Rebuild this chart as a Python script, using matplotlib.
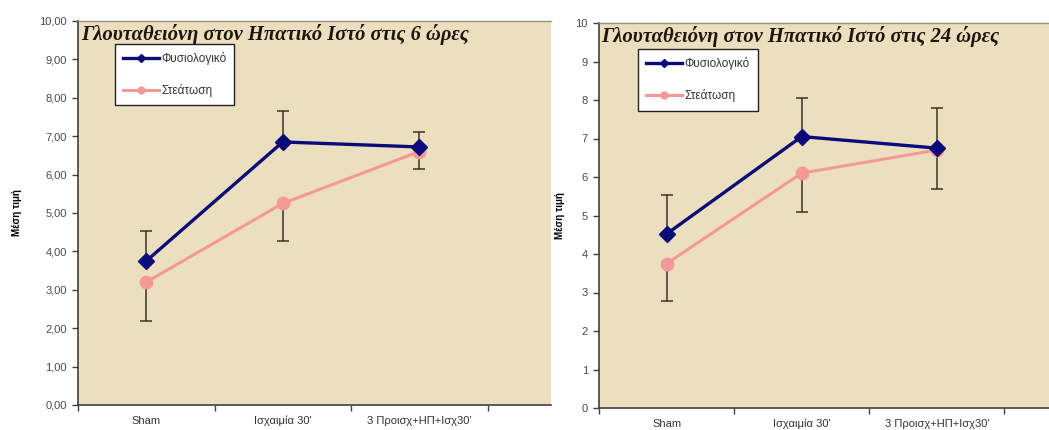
import numpy as np
import matplotlib
matplotlib.use("Agg")
import matplotlib.pyplot as plt

plt.rcParams['font.family'] = ['Liberation Sans', 'DejaVu Sans']

# groups on the x axis
groups = ["Sham", "Ισχαιμία 30'", "3 Προισχ+ΗΠ+Ισχ30'"]
series_names = ["Φυσιολογικό", "Στεάτωση"]

# 6 hours
normal_6h = [3.75, 6.85, 6.72]
steatosis_6h = [3.20, 5.25, 6.60]
normal_6h_err = [0.77, 0.80, 0.40]
steatosis_6h_err = [1.02, 0.98, 0.45]

# 24 hours
normal_24h = [4.52, 7.05, 6.75]
steatosis_24h = [3.75, 6.10, 6.70]
normal_24h_err = [1.00, 1.00, 1.03]
steatosis_24h_err = [0.98, 1.00, 1.02]

titles = ["Γλουταθειόνη στον Ηπατικό Ιστό στις 6 ώρες",
          "Γλουταθειόνη στον Ηπατικό Ιστό στις 24 ώρες"]

paper = '#ECDFC0'
navy = '#0A0A78'
pink = '#F49A96'
err_col = '#3A3322'


def draw_panel(ax, normal, steat, n_err, s_err, title, tick_fmt, xmax, leg_anchor):
    x = np.arange(len(groups))
    ax.set_facecolor(paper)
    # blue series shows the upper half of its error, pink the lower half
    ax.errorbar(x, normal, yerr=[np.zeros(len(x)), n_err], fmt='none',
                ecolor=err_col, elinewidth=1.1, capsize=4, capthick=1.1, zorder=2)
    ax.errorbar(x, steat, yerr=[s_err, np.zeros(len(x))], fmt='none',
                ecolor=err_col, elinewidth=1.1, capsize=4, capthick=1.1, zorder=2)
    ax.plot(x, normal, color=navy, lw=2.4, marker='D', ms=8, mfc=navy, mec=navy,
            label=series_names[0], zorder=4)
    ax.plot(x, steat, color=pink, lw=2.2, marker='o', ms=9, mfc=pink, mec=pink,
            label=series_names[1], zorder=3)

    ax.set_ylim(0, 10)
    ax.set_xlim(-0.5, xmax)
    ax.set_yticks(np.arange(0, 11, 1))
    ax.set_yticklabels([tick_fmt(v) for v in range(11)])
    ax.set_xticks([-0.5, 0.5, 1.5, 2.5])
    ax.set_xticklabels([])
    ax.set_xticks(x, minor=True)
    ax.set_xticklabels(groups, minor=True, va='baseline')
    ax.tick_params(axis='x', which='minor', length=0, pad=14, labelsize=8, colors='#333333')
    ax.tick_params(axis='x', which='major', length=4, width=1, color='#404040', direction='out')
    ax.tick_params(axis='y', length=4, width=1, color='#404040', labelsize=8,
                   labelcolor='#4A4A4A', pad=4)

    for side in ['left', 'bottom']:
        ax.spines[side].set_color('#404040')
        ax.spines[side].set_linewidth(1.2)
    ax.spines['top'].set_color('#9C9078')
    ax.spines['top'].set_linewidth(1.0)
    ax.spines['right'].set_visible(False)

    ax.set_ylabel('Μέση τιμή', fontsize=7, fontweight='bold')
    ax.text(0.006, 0.965, title, transform=ax.transAxes, ha='left', va='center',
            fontsize=14.8, fontweight='bold', fontstyle='italic',
            family=['Liberation Serif', 'DejaVu Serif'], color='#1E160C')

    leg = ax.legend(loc='upper left', bbox_to_anchor=leg_anchor, fontsize=8.5,
                    fancybox=False, framealpha=1, edgecolor='#222222',
                    labelspacing=1.6, handlelength=3.0, handletextpad=0.2,
                    borderpad=0.7, markerscale=0.55, borderaxespad=0)
    leg.get_frame().set_linewidth(1.0)
    for t in leg.get_texts():
        t.set_color('#333333')


fig = plt.figure(figsize=(10.49, 4.30), dpi=100)
fig.patch.set_facecolor('white')

ax1 = fig.add_axes([78 / 1049, 1 - 405 / 430, 473 / 1049, 384 / 430])
ax2 = fig.add_axes([599 / 1049, 1 - 408 / 430, 450 / 1049, 385 / 430])

draw_panel(ax1, normal_6h, steatosis_6h, normal_6h_err, steatosis_6h_err,
           titles[0], lambda v: f"{v:.2f}".replace('.', ','), 2.965, (0.078, 0.94))
draw_panel(ax2, normal_24h, steatosis_24h, normal_24h_err, steatosis_24h_err,
           titles[1], lambda v: f"{v:d}", 2.83, (0.087, 0.932))
ax1.yaxis.set_label_coords(-0.118, 0.5)
ax2.yaxis.set_label_coords(-0.076, 0.5)

fig.savefig('out.png', dpi=100, facecolor='white')
